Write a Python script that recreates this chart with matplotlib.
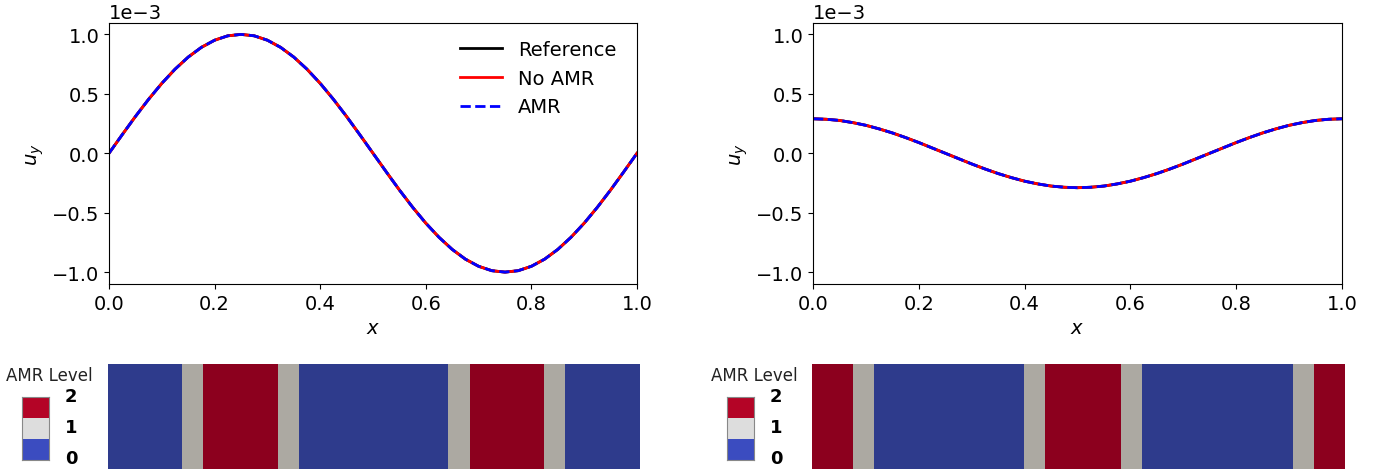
import numpy as np
import matplotlib.pyplot as plt
from matplotlib.colors import ListedColormap

x_pts = np.linspace(0.0, 1.0, 41)

# left panel: u_y (units of 1e-3), reference / no AMR / AMR coincide
uy_left = [0.000, 0.156, 0.309, 0.454, 0.588, 0.707, 0.809, 0.891, 0.951, 0.988,
           1.000, 0.988, 0.951, 0.891, 0.809, 0.707, 0.588, 0.454, 0.309, 0.156,
           0.000, -0.156, -0.309, -0.454, -0.588, -0.707, -0.809, -0.891, -0.951, -0.988,
           -1.000, -0.988, -0.951, -0.891, -0.809, -0.707, -0.588, -0.454, -0.309, -0.156,
           0.000]

# right panel
uy_right = [0.290, 0.286, 0.276, 0.258, 0.235, 0.205, 0.171, 0.132, 0.090, 0.045,
            0.000, -0.045, -0.090, -0.132, -0.171, -0.205, -0.235, -0.258, -0.276, -0.286,
            -0.290, -0.286, -0.276, -0.258, -0.235, -0.205, -0.171, -0.132, -0.090, -0.045,
            0.000, 0.045, 0.090, 0.132, 0.171, 0.205, 0.235, 0.258, 0.276, 0.286,
            0.290]

# AMR level strips: segment edges along x and level of each segment
edges_left = [0.0, 0.14, 0.18, 0.32, 0.36, 0.64, 0.68, 0.82, 0.86, 1.0]
levels_left = [0, 1, 2, 1, 0, 1, 2, 1, 0]
edges_right = [0.0, 0.076, 0.116, 0.398, 0.438, 0.58, 0.62, 0.902, 0.942, 1.0]
levels_right = [2, 1, 0, 1, 2, 1, 0, 1, 2]

series_names = ["Reference", "No AMR", "AMR"]
level_labels = ["2", "1", "0"]

strip_colors = {0: "#2e3b8c", 1: "#aca9a2", 2: "#8c001e"}
legend_colors = ["#3b4cc0", "#dddddd", "#b40426"]

W, H = 1396, 477
fig = plt.figure(figsize=(W / 100, H / 100), dpi=100)


def px_axes(x0, y0, x1, y1):
    # y measured from top of image, in pixels
    return fig.add_axes([x0 / W, 1 - y1 / H, (x1 - x0) / W, (y1 - y0) / H])


def line_panel(ax, yvals, legend=False):
    y = np.array(yvals) * 1e-3
    ax.plot(x_pts, y, color="black", lw=2, label=series_names[0])
    ax.plot(x_pts, y, color="red", lw=2, label=series_names[1])
    ax.plot(x_pts, y, color="blue", lw=2, ls="--", label=series_names[2])
    ax.set_xlim(0, 1)
    ax.set_ylim(-1.1e-3, 1.1e-3)
    ax.set_yticks([-1e-3, -0.5e-3, 0, 0.5e-3, 1e-3])
    ax.ticklabel_format(axis="y", style="sci", scilimits=(0, 0))
    ax.tick_params(labelsize=14)
    ax.yaxis.get_offset_text().set_fontsize(14)
    ax.set_xlabel("$x$", fontsize=14)
    ax.set_ylabel("$u_y$", fontsize=14)
    if legend:
        ax.legend(loc="upper right", bbox_to_anchor=(0.994, 1.0), frameon=False,
                  fontsize=14, handlelength=2.2, borderaxespad=0.5)


def strip_panel(ax, edges, levels):
    for i, lev in enumerate(levels):
        ax.barh(0, edges[i + 1] - edges[i], left=edges[i], height=1,
                color=strip_colors[lev], edgecolor="none")
    ax.set_xlim(0, 1)
    ax.set_ylim(-0.5, 0.5)
    ax.axis("off")


def level_legend(x0):
    cax = px_axes(x0, 398, x0 + 27, 461)
    cax.imshow(np.array([[2], [1], [0]]), cmap=ListedColormap(legend_colors),
               vmin=0, vmax=2, aspect="auto")
    cax.set_xticks([])
    cax.set_yticks([])
    for s in cax.spines.values():
        s.set_color("#888888")
        s.set_linewidth(0.8)
    fig.text((x0 + 27) / W, 1 - 376 / H, "AMR Level", fontsize=12,
             ha="center", va="center", color="#222222")
    for lab, yy in zip(level_labels, [397, 428, 459]):
        fig.text((x0 + 49) / W, 1 - yy / H, lab, fontsize=13,
                 fontweight="bold", ha="center", va="center")


ax1 = px_axes(109, 23.5, 637, 285)
line_panel(ax1, uy_left, legend=True)
ax2 = px_axes(813, 23.5, 1342, 285)
line_panel(ax2, uy_right)

strip_panel(px_axes(107.5, 365, 640, 470), edges_left, levels_left)
strip_panel(px_axes(812, 365, 1345, 470), edges_right, levels_right)

level_legend(22)
level_legend(727)

fig.savefig("out.png", dpi=100)
